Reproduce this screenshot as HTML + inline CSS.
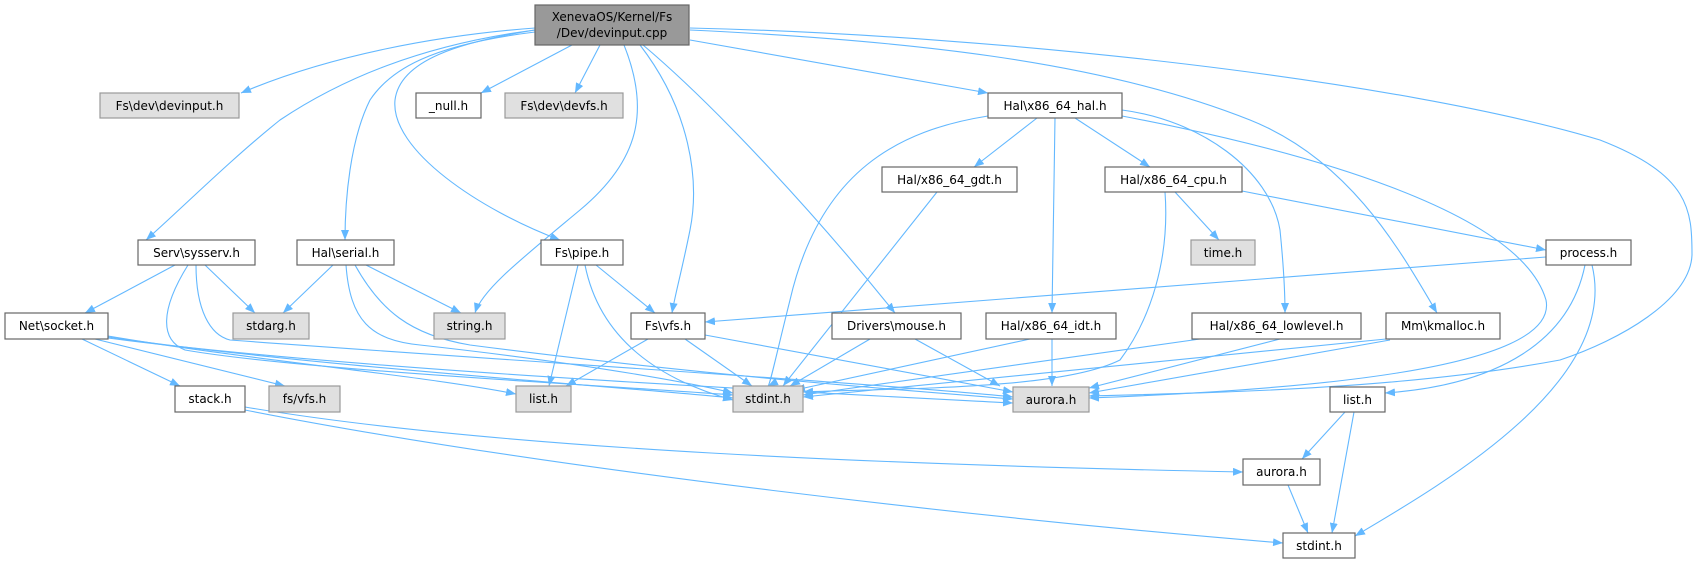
<!DOCTYPE html>
<html><head><meta charset="utf-8"><style>
html,body{margin:0;padding:0;background:#fff}
svg{display:block}
text{font-family:"DejaVu Sans","Liberation Sans",sans-serif;font-size:12px;fill:#000;text-anchor:middle}
.e{fill:none;stroke:#63b8ff;stroke-width:1.1}
.w{fill:#fff;stroke:#666;stroke-width:1.2}
.g{fill:#e0e0e0;stroke:#999;stroke-width:1.2}
</style></head><body>
<svg width="1695" height="564" viewBox="0 0 1695 564" xmlns="http://www.w3.org/2000/svg">
<defs><marker id="a" markerWidth="11" markerHeight="8" refX="10" refY="4" orient="auto" markerUnits="userSpaceOnUse"><path d="M0,0 L10,4 L0,8 z" fill="#63b8ff"/></marker></defs>
<g class="e" marker-end="url(#a)">
<!-- main edges -->
<path d="M535,28 C440,35 330,55 241,93"/>
<path d="M535,30 C420,45 340,80 280,120 C230,160 180,210 146,240"/>
<path d="M535,32 C430,45 390,70 370,100 C350,140 345,200 345,240"/>
<path d="M535,30 C460,42 400,60 395,100 C390,150 480,210 560,240"/>
<path d="M624,45 C650,110 640,160 580,210 C520,260 482,290 475,313"/>
<path d="M572,45 L481,93"/>
<path d="M600,45 L575,93"/>
<path d="M640,45 C690,110 700,180 690,230 C682,270 675,295 672,313"/>
<path d="M643,45 C720,110 820,220 895,313"/>
<path d="M690,40 L988,93"/>
<path d="M690,30 C900,40 1100,60 1250,120 C1350,160 1400,250 1437,313"/>
<path d="M690,28 C1000,35 1400,80 1600,140 C1690,175 1692,210 1692,255 C1690,300 1620,340 1560,360 C1400,390 1200,393 1089,396"/>
<!-- hal -->
<path d="M988,116 C900,130 820,170 790,300 C775,360 770,385 768,386"/>
<path d="M1037,118 L974,167"/>
<path d="M1055,118 L1052,313"/>
<path d="M1075,118 L1150,167"/>
<path d="M1122,110 C1200,120 1270,170 1280,230 C1284,270 1285,295 1285,313"/>
<path d="M1122,116 C1300,150 1520,210 1546,300 C1560,370 1300,390 1089,398"/>
<!-- gdt -->
<path d="M937,192 L783,386"/>
<!-- cpu -->
<path d="M1175,192 L1219,240"/>
<path d="M1242,191 L1546,250"/>
<path d="M1165,192 C1170,260 1150,320 1120,360 C1060,390 900,388 803,392"/>
<!-- process -->
<path d="M1546,257 L705,322"/>
<path d="M1585,265 C1570,340 1500,385 1385,393"/>
<path d="M1592,265 C1620,380 1450,480 1355,536"/>
<!-- sysserv -->
<path d="M175,265 L85,313"/>
<path d="M205,265 L255,313"/>
<path d="M188,265 C160,310 160,340 185,350 C300,370 600,385 733,395"/>
<path d="M196,265 C196,310 210,335 230,340 C500,360 900,385 1013,397"/>
<!-- serial -->
<path d="M333,265 L283,313"/>
<path d="M346,265 C350,320 370,340 420,345 C600,365 700,385 733,393"/>
<path d="M355,265 C380,310 410,335 470,345 C700,375 900,390 1013,399"/>
<path d="M366,265 L461,313"/>
<!-- pipe -->
<path d="M578,265 L549,386"/>
<path d="M585,265 C600,340 660,380 733,400"/>
<path d="M596,265 L655,313"/>
<!-- socket -->
<path d="M82,339 L180,386"/>
<path d="M95,339 L285,386"/>
<path d="M108,336 C250,360 420,375 516,394"/>
<path d="M108,337 C300,365 600,385 733,398"/>
<path d="M108,338 C350,370 800,392 1013,403"/>
<!-- stack -->
<path d="M245,407 C500,450 900,465 1243,472"/>
<path d="M245,410 C550,470 1000,520 1283,543"/>
<!-- vfs -->
<path d="M648,339 L566,386"/>
<path d="M685,339 L752,386"/>
<path d="M705,335 L1013,392"/>
<!-- mouse -->
<path d="M870,339 L790,386"/>
<path d="M915,339 L1000,386"/>
<!-- idt -->
<path d="M1030,339 L795,390"/>
<path d="M1052,339 L1052,386"/>
<!-- lowlevel -->
<path d="M1200,339 L803,395"/>
<path d="M1280,339 L1089,388"/>
<!-- kmalloc -->
<path d="M1386,339 L803,397"/>
<path d="M1390,340 L1089,393"/>
<!-- list white -->
<path d="M1345,412 L1302,459"/>
<path d="M1354,412 L1332,533"/>
<!-- aurora white -->
<path d="M1288,485 L1308,533"/>
</g>
<!-- nodes -->
<rect x="535" y="5" width="154" height="40" fill="#999" stroke="#666" stroke-width="1.2"/>
<text x="612" y="21">XenevaOS/Kernel/Fs</text><text x="612" y="37">/Dev/devinput.cpp</text>
<rect class="g" x="100" y="93" width="139" height="25"/><text x="169.5" y="110">Fs\dev\devinput.h</text>
<rect class="w" x="416" y="93" width="65" height="25"/><text x="448.5" y="110">_null.h</text>
<rect class="g" x="505" y="93" width="118" height="25"/><text x="564" y="110">Fs\dev\devfs.h</text>
<rect class="w" x="988" y="93" width="134" height="25"/><text x="1055" y="110">Hal\x86_64_hal.h</text>
<rect class="w" x="882" y="167" width="135" height="25"/><text x="949.5" y="184">Hal/x86_64_gdt.h</text>
<rect class="w" x="1105" y="167" width="137" height="25"/><text x="1173.5" y="184">Hal/x86_64_cpu.h</text>
<rect class="w" x="138" y="240" width="117" height="25"/><text x="196.5" y="257">Serv\sysserv.h</text>
<rect class="w" x="297" y="240" width="97" height="25"/><text x="345.5" y="257">Hal\serial.h</text>
<rect class="w" x="541" y="240" width="82" height="25"/><text x="582" y="257">Fs\pipe.h</text>
<rect class="g" x="1191" y="240" width="64" height="25"/><text x="1223" y="257">time.h</text>
<rect class="w" x="1546" y="240" width="85" height="25"/><text x="1588.5" y="257">process.h</text>
<rect class="w" x="5" y="313" width="103" height="26"/><text x="56.5" y="330">Net\socket.h</text>
<rect class="g" x="233" y="313" width="76" height="26"/><text x="271" y="330">stdarg.h</text>
<rect class="g" x="434" y="313" width="71" height="26"/><text x="469.5" y="330">string.h</text>
<rect class="w" x="631" y="313" width="74" height="26"/><text x="668" y="330">Fs\vfs.h</text>
<rect class="w" x="832" y="313" width="129" height="26"/><text x="896.5" y="330">Drivers\mouse.h</text>
<rect class="w" x="986" y="313" width="130" height="26"/><text x="1051" y="330">Hal/x86_64_idt.h</text>
<rect class="w" x="1192" y="313" width="169" height="26"/><text x="1276.5" y="330">Hal/x86_64_lowlevel.h</text>
<rect class="w" x="1386" y="313" width="114" height="26"/><text x="1443" y="330">Mm\kmalloc.h</text>
<rect class="w" x="175" y="386" width="70" height="26"/><text x="210" y="403">stack.h</text>
<rect class="g" x="269" y="386" width="71" height="26"/><text x="304.5" y="403">fs/vfs.h</text>
<rect class="g" x="516" y="386" width="55" height="26"/><text x="543.5" y="403">list.h</text>
<rect class="g" x="733" y="386" width="70" height="26"/><text x="768" y="403">stdint.h</text>
<rect class="g" x="1013" y="387" width="76" height="25"/><text x="1051" y="404">aurora.h</text>
<rect class="w" x="1330" y="387" width="55" height="25"/><text x="1357.5" y="404">list.h</text>
<rect class="w" x="1243" y="459" width="77" height="26"/><text x="1281.5" y="476">aurora.h</text>
<rect class="w" x="1283" y="533" width="72" height="25"/><text x="1319" y="550">stdint.h</text>
</svg>
</body></html>
